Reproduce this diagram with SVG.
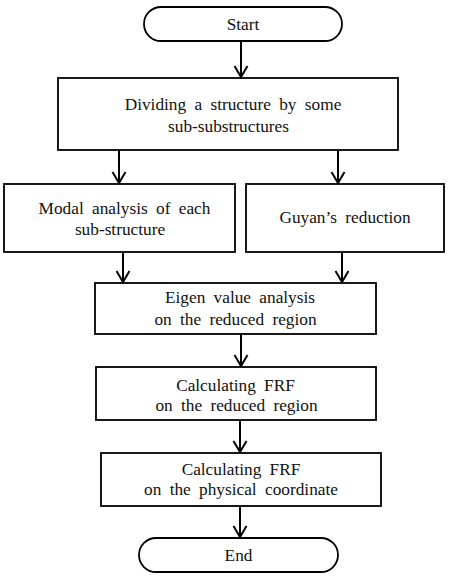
<svg xmlns="http://www.w3.org/2000/svg" width="450" height="577" viewBox="0 0 450 577">
<style>
.box{fill:#fff;stroke:#000;stroke-width:1.8}
text{font-size:17.3px;text-anchor:middle;word-spacing:4px;fill:#111}
.c{stroke:#000;stroke-width:2;fill:none}
</style>
<defs>
<marker id="ah" markerWidth="14" markerHeight="16" refX="12" refY="8" orient="auto" markerUnits="userSpaceOnUse" viewBox="0 0 14 16">
<path d="M1,1.5 L12,8 L1,14.5" fill="none" stroke="#000" stroke-width="2"/>
</marker>
</defs>
<rect width="450" height="577" fill="#fff"/>
<g id="connectors">
<line class="c" x1="241" y1="42" x2="241" y2="77" marker-end="url(#ah)"/>
<line class="c" x1="119" y1="150" x2="119" y2="183" marker-end="url(#ah)"/>
<line class="c" x1="338" y1="150" x2="338" y2="183" marker-end="url(#ah)"/>
<line class="c" x1="123" y1="252" x2="123" y2="282" marker-end="url(#ah)"/>
<line class="c" x1="342" y1="252" x2="342" y2="282" marker-end="url(#ah)"/>
<line class="c" x1="241" y1="334" x2="241" y2="366" marker-end="url(#ah)"/>
<line class="c" x1="240" y1="420" x2="240" y2="452" marker-end="url(#ah)"/>
<line class="c" x1="240" y1="506" x2="240" y2="537" marker-end="url(#ah)"/>
</g>
<g font-family="Liberation Serif, Times New Roman, serif">
<g id="start">
<rect class="box" x="144" y="7" width="198" height="34" rx="17"/>
<text x="243" y="30">Start</text>
</g>
<g id="divide">
<rect class="box" x="58" y="78" width="340" height="72"/>
<text x="233" y="110">Dividing a structure by some</text>
<text x="228.5" y="132">sub-substructures</text>
</g>
<g id="modal">
<rect class="box" x="4" y="184" width="231" height="68"/>
<text x="124.5" y="214">Modal analysis of each</text>
<text x="120" y="235">sub-structure</text>
</g>
<g id="guyan">
<rect class="box" x="246" y="184" width="198" height="68"/>
<text x="345" y="223">Guyan’s reduction</text>
</g>
<g id="eigen">
<rect class="box" x="95" y="283" width="281" height="51"/>
<text x="240" y="303">Eigen value analysis</text>
<text x="235.5" y="325">on the reduced region</text>
</g>
<g id="frf1">
<rect class="box" x="96" y="367" width="280" height="53"/>
<text x="235.5" y="391">Calculating FRF</text>
<text x="236.5" y="411">on the reduced region</text>
</g>
<g id="frf2">
<rect class="box" x="101" y="453" width="280" height="53"/>
<text x="241" y="475">Calculating FRF</text>
<text x="241" y="495">on the physical coordinate</text>
</g>
<g id="end">
<rect class="box" x="139" y="538" width="199" height="34" rx="17"/>
<text x="238.5" y="561">End</text>
</g>
</g>
</svg>
